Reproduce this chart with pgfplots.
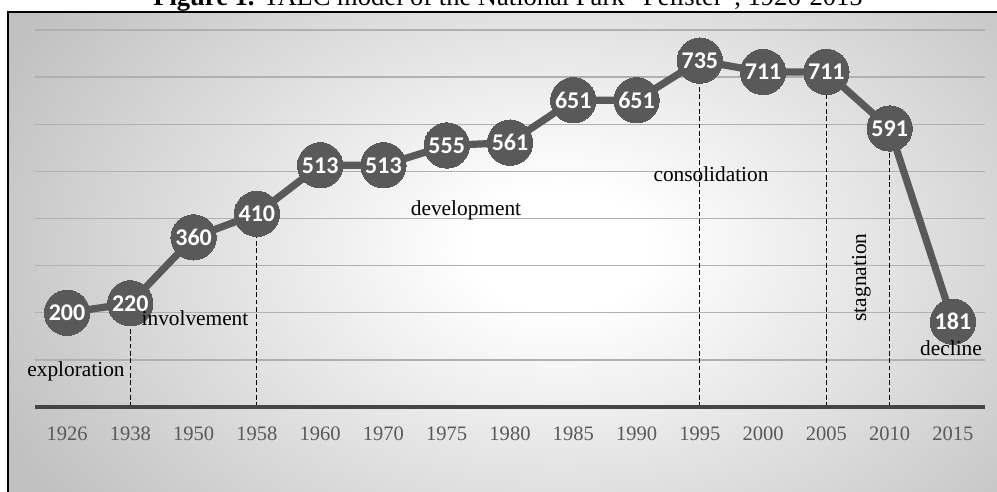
\documentclass[border=0pt]{standalone}
\usepackage{fontspec}
\setmainfont{Liberation Serif}
\newfontfamily\carlito{Carlito}
\usepackage{pgfplots}
\usepackage{pgfplotstable}
\pgfplotsset{compat=1.18}
\definecolor{dk}{HTML}{595959}
\definecolor{gridc}{HTML}{B0B0B0}
\definecolor{axc}{HTML}{454545}
\definecolor{bgout}{HTML}{C0C0C0}
\pgfdeclareradialshading{bgshade}{\pgfpoint{0bp}{0bp}}{color(0bp)=(white); color(4bp)=(white); color(28bp)=(bgout); color(50bp)=(bgout)}
\pgfplotstableread{
x y
0 200
1 220
2 360
3 410
4 513
5 513
6 555
7 561
8 651
9 651
10 735
11 711
12 711
13 591
14 181
}\talc
\begin{document}
\begin{tikzpicture}
\useasboundingbox (0pt,0pt) rectangle (747.75pt,-369pt);
\clip (0pt,0pt) rectangle (747.75pt,-369pt);
\begin{scope}[x=0.75pt,y=-0.75pt]
  \begin{scope}
    \clip (8,12) rectangle (1030,520);
    \shade[shading=bgshade] (0,-130) rectangle (1120,630);
  \end{scope}
  \draw[line width=1.2pt] (8,520) -- (8,12) -- (1030,12);
  \node[anchor=base, inner sep=0pt, font=\fontsize{19.9}{22}\selectfont] at (508,6) {\textbf{Figure 1.} TALC model of the National Park “Pelister”, 1926-2015};
\end{scope}
\begin{axis}[
  at={(26.55pt,-305.25pt)}, anchor=south west,
  scale only axis, width=711.9pt, height=282.75pt,
  xmin=-0.5, xmax=14.5, ymin=0, ymax=800,
  axis line style={draw=none},
  xtick={0,...,14},
  xticklabels={1926,1938,1950,1958,1960,1970,1975,1980,1985,1990,1995,2000,2005,2010,2015},
  ytick={100,200,300,400,500,600,700,800}, yticklabels={},
  major tick length=0pt,
  ymajorgrids, grid style={gridc, line width=1pt},
  xticklabel style={font=\fontsize{15.4}{18}\selectfont, text=dk, inner sep=0pt, anchor=north, yshift=-15pt},
  clip=false,
]
\addplot[black, dash pattern=on 3.5pt off 2pt, line width=0.9pt, ycomb, no marks] coordinates {(1,220) (3,410) (10,735) (12,711) (13,591)};
\draw[axc, line width=2.6pt] (axis cs:-0.5,0) -- (axis cs:14.5,0);
\addplot[dk, line width=5.4pt, mark=*, mark size=17pt,
  mark options={fill=dk, draw=dk, line width=0pt},
  nodes near coords, point meta=explicit symbolic,
  nodes near coords align={center},
  every node near coord/.append style={font=\carlito\bfseries\fontsize{18}{20}\selectfont, text=white, anchor=center, inner sep=0pt}]
  table[x=x, y=y, meta=y] {\talc};
\end{axis}
\begin{scope}[x=0.75pt,y=-0.75pt, every node/.style={font=\fontsize{16}{19}\selectfont, inner sep=0pt}]
  \node[anchor=base] at (76,376.7) {exploration};
  \node[anchor=base] at (195,325.7) {involvement};
  \node[anchor=base] at (466,215) {development};
  \node[anchor=base] at (711,181.7) {consolidation};
  \node[anchor=base, rotate=90] at (866,277.5) {stagnation};
  \node[anchor=base] at (951,355) {decline};
\end{scope}
\end{tikzpicture}
\end{document}
